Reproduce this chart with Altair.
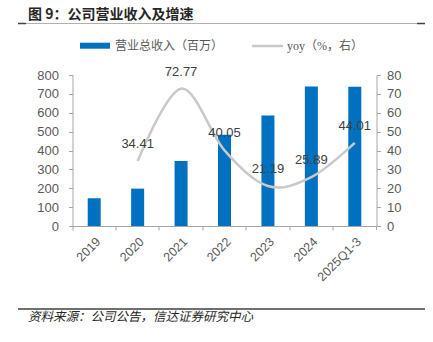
import altair as alt
import pandas as pd

categories = ["2019", "2020", "2021", "2022", "2023", "2024", "2025Q1-3"]
revenue = [147, 198, 344, 484, 585, 739, 738]
yoy = [None, 34.41, 72.77, 40.05, 21.19, 25.89, 44.01]

df = pd.DataFrame({"cat": categories, "rev": revenue, "yoy": yoy})
line_df = df.dropna().reset_index(drop=True)

FONT = "Liberation Sans"
CJK = "Noto Sans CJK SC"
AX = "#a6a6a6"
LAB = "#595959"
BLUE = "#0070c0"
GRAY = "#c9c9c9"

xenc = alt.X(
    "cat:N", sort=categories, title=None,
    scale=alt.Scale(paddingInner=0, paddingOuter=0),
    axis=alt.Axis(labelAngle=-45, bandPosition=0, tickSize=4, labelPadding=5,
                  domainColor=AX, tickColor=AX, labelColor=LAB, labelFont=FONT,
                  labelFontSize=12.5, grid=False),
)

bars = alt.Chart(df).mark_bar(size=13, color=BLUE).encode(
    x=xenc,
    y=alt.Y("rev:Q", title=None,
            scale=alt.Scale(domain=[0, 800], nice=False),
            axis=alt.Axis(orient="left", values=list(range(0, 801, 100)), grid=False,
                          tickSize=4, labelPadding=10, domainColor=AX, tickColor=AX,
                          labelColor=LAB, labelFont=FONT, labelFontSize=13)),
)

yenc = alt.Y("yoy:Q", title=None,
             scale=alt.Scale(domain=[0, 80], nice=False),
             axis=alt.Axis(orient="right", values=list(range(0, 81, 10)), grid=False,
                           tickSize=4, labelPadding=6, domainColor=AX, tickColor=AX,
                           labelColor=LAB, labelFont=FONT, labelFontSize=13))

line = alt.Chart(line_df).mark_line(interpolate="cardinal", color=GRAY, strokeWidth=2.5).encode(
    x=xenc, y=yenc)
labels = alt.Chart(line_df).mark_text(dy=-17, fontSize=13, color="#404040", font=FONT,
                                      baseline="middle").encode(
    x=xenc, y=yenc, text=alt.Text("yoy:Q", format=".2f"))
yoy_layer = alt.layer(line, labels)

one = alt.InlineData(values=[{"k": 1}])


def txt(s, x, y, **kw):
    return alt.Chart(one).mark_text(text=s, align="left", baseline="middle", **kw).encode(
        x=alt.value(x), y=alt.value(y))


def hrule(x1, x2, y, color, w):
    return alt.Chart(one).mark_rule(color=color, strokeWidth=w).encode(
        x=alt.value(x1), x2=alt.value(x2), y=alt.value(y))


decos = [
    txt("图 9：公司营业收入及增速", -44.5, -60, font=CJK, fontSize=14, fontWeight="bold", color="#262626"),
    hrule(-54.5, 352.5, -51.5, "#b0b0b0", 1),
    hrule(-54.5, -46.5, -51.5, "#404040", 1.5),
    hrule(344.5, 352.5, -51.5, "#404040", 1.5),
    alt.Chart(one).mark_rect(color=BLUE).encode(
        x=alt.value(7.5), x2=alt.value(37.5), y=alt.value(-32.3), y2=alt.value(-26.3)),
    txt("营业总收入（百万）", 42.5, -29, font=CJK, fontSize=12, color=LAB),
    hrule(179.5, 210.5, -29, GRAY, 2.5),
    txt("yoy（%，右）", 214.5, -29, font="Liberation Serif, Noto Sans CJK SC", fontSize=12, color=LAB),
    alt.Chart(one).mark_rule(color=AX, strokeWidth=1).encode(
        x=alt.value(304), y=alt.value(151), y2=alt.value(155)),
    hrule(-54.5, 352.5, 234, "#404040", 1.5),
    txt("资料来源：公司公告，信达证券研究中心", -44.5, 242, font=CJK, fontSize=12.5,
        fontStyle="italic", color="#262626"),
]

chart = alt.layer(bars, yoy_layer, *decos).resolve_scale(y="independent").properties(
    width=304, height=151,
    padding={"left": 72.5, "top": 75, "right": 56.5, "bottom": 116},
    autosize=alt.AutoSizeParams(type="none"),
    background="white",
).configure_view(stroke=None)

chart.save("out.html", embed_options={"renderer": "svg", "actions": False})
